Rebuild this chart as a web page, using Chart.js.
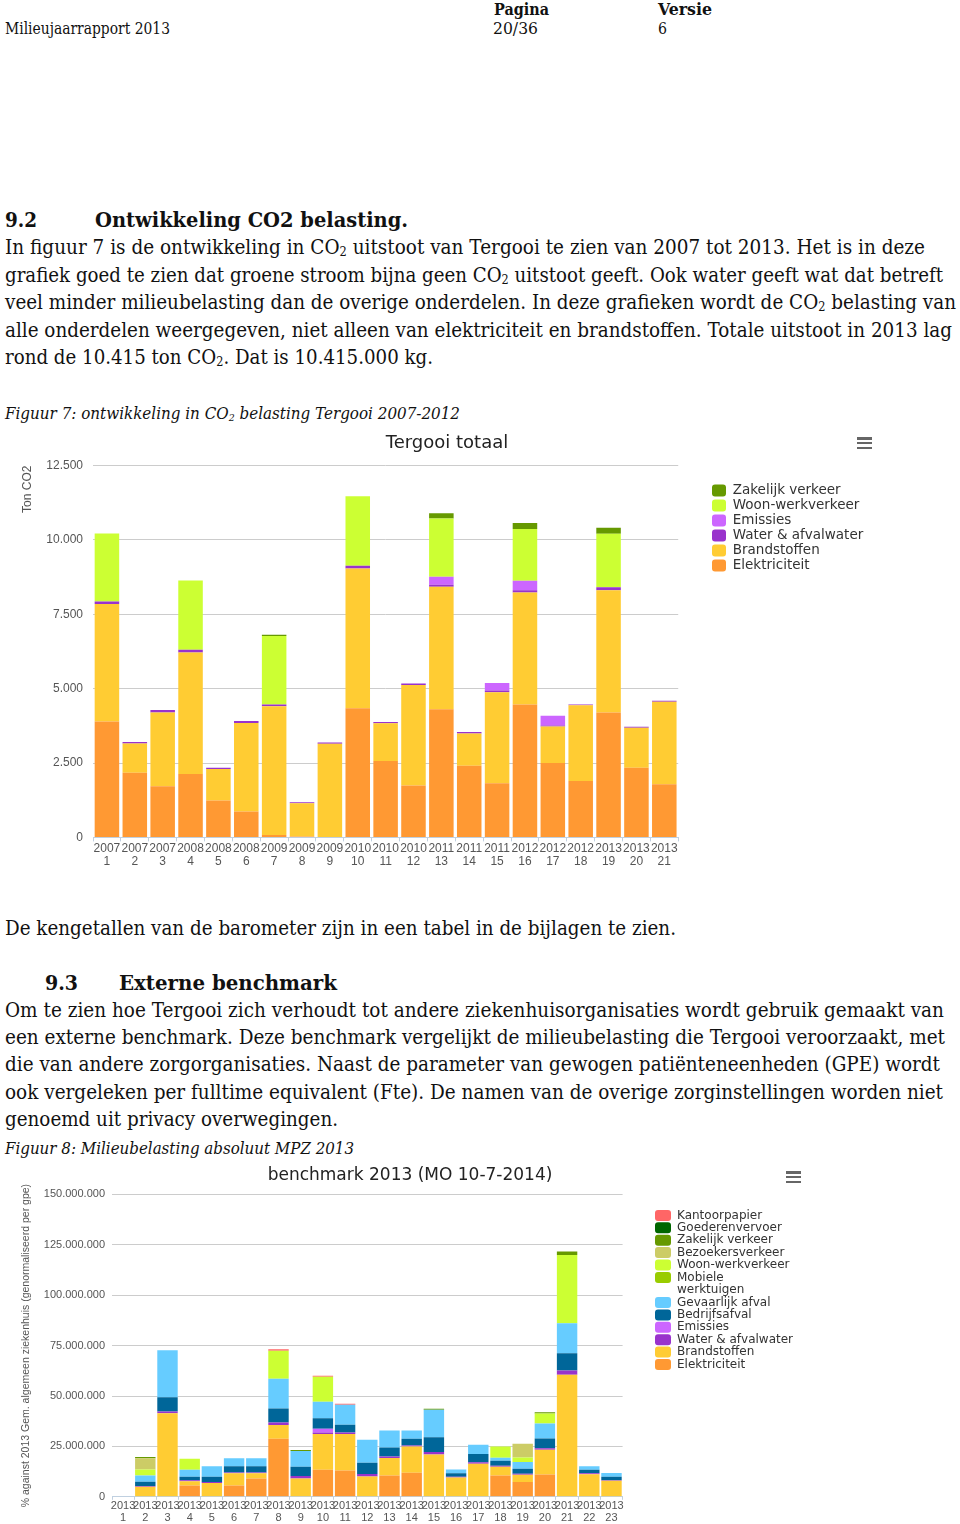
<!DOCTYPE html>
<html><head><meta charset="utf-8">
<script src="https://cdn.jsdelivr.net/npm/chart.js"></script>
<style>
html,body{margin:0;padding:0;background:#fff;}
body{width:960px;height:1524px;position:relative;overflow:hidden;font-family:"DejaVu Serif",serif;color:#111;}
.t{position:absolute;white-space:nowrap;line-height:24px;height:24px;transform-origin:0 50%;font-size:20px;}
.hd{font-size:16px;}
.bd{font-weight:bold;}
.it{font-style:italic;font-size:16px;}
sub{font-size:0.62em;vertical-align:-0.2em;line-height:0;}
canvas{position:absolute;}
.menu{position:absolute;width:15px;}
.menu div{height:2.6px;background:#666;margin-bottom:2.2px;}
</style></head><body>

<div class="t hd" data-x="5" data-y="29" data-w="165">Milieujaarrapport 2013</div>
<div class="t hd bd" data-x="494" data-y="10" data-w="55">Pagina</div>
<div class="t hd" data-x="493" data-y="29" data-w="45">20/36</div>
<div class="t hd bd" data-x="658" data-y="10" data-w="54">Versie</div>
<div class="t hd" data-x="658" data-y="29" data-w="9">6</div>

<div class="t bd" data-x="5" data-y="220" data-w="32">9.2</div>
<div class="t bd" data-x="95" data-y="220" data-w="313">Ontwikkeling CO2 belasting.</div>
<div class="t" data-x="5" data-y="247" data-w="920">In figuur 7 is de ontwikkeling in CO<sub>2</sub> uitstoot van Tergooi te zien van 2007 tot 2013. Het is in deze</div>
<div class="t" data-x="5" data-y="275" data-w="938">grafiek goed te zien dat groene stroom bijna geen CO<sub>2</sub> uitstoot geeft. Ook water geeft wat dat betreft</div>
<div class="t" data-x="5" data-y="302" data-w="951">veel minder milieubelasting dan de overige onderdelen. In deze grafieken wordt de CO<sub>2</sub> belasting van</div>
<div class="t" data-x="5" data-y="330" data-w="947">alle onderdelen weergegeven, niet alleen van elektriciteit en brandstoffen. Totale uitstoot in 2013 lag</div>
<div class="t" data-x="5" data-y="357" data-w="428">rond de 10.415 ton CO<sub>2</sub>. Dat is 10.415.000 kg.</div>
<div class="t it" data-x="5" data-y="414" data-w="455">Figuur 7: ontwikkeling in CO<sub>2</sub> belasting Tergooi 2007-2012</div>

<div class="t" data-x="5" data-y="928" data-w="671">De kengetallen van de barometer zijn in een tabel in de bijlagen te zien.</div>
<div class="t bd" data-x="45" data-y="983" data-w="33">9.3</div>
<div class="t bd" data-x="119" data-y="983" data-w="218">Externe benchmark</div>
<div class="t" data-x="5" data-y="1010" data-w="939">Om te zien hoe Tergooi zich verhoudt tot andere ziekenhuisorganisaties wordt gebruik gemaakt van</div>
<div class="t" data-x="5" data-y="1037" data-w="940">een externe benchmark. Deze benchmark vergelijkt de milieubelasting die Tergooi veroorzaakt, met</div>
<div class="t" data-x="5" data-y="1064" data-w="935">die van andere zorgorganisaties. Naast de parameter van gewogen patiënteneenheden (GPE) wordt</div>
<div class="t" data-x="5" data-y="1092" data-w="938">ook vergeleken per fulltime equivalent (Fte). De namen van de overige zorginstellingen worden niet</div>
<div class="t" data-x="5" data-y="1119" data-w="333">genoemd uit privacy overwegingen.</div>
<div class="t it" data-x="5" data-y="1149" data-w="349">Figuur 8: Milieubelasting absoluut MPZ 2013</div>

<canvas id="c1" width="894" height="450" style="left:0;top:425px;"></canvas>
<canvas id="c2" width="840" height="364" style="left:0;top:1160px;"></canvas>
<div class="menu" style="left:857px;top:437px;"><div></div><div></div><div></div></div>
<div class="menu" style="left:786px;top:1171px;"><div></div><div></div><div></div></div>

<script>
// ---------- Chart 1: Tergooi totaal (ton CO2) ----------
const years1 = ['2007','2007','2007','2008','2008','2008','2009','2009','2009','2010','2010','2010','2011','2011','2011','2012','2012','2012','2013','2013','2013'];
const nums1  = ['1','2','3','4','5','6','7','8','9','10','11','12','13','14','15','16','17','18','19','20','21'];
const elek1  = [3900,2170,1720,2130,1240,870,80,30,0,4340,2570,1745,4310,2410,1820,4470,2500,1900,4200,2340,1790];
const brand1 = [3950,990,2480,4090,1060,2980,4330,1120,3150,4700,1270,3380,4120,1080,3060,3760,1230,2540,4110,1350,2770];
const water1 = [80,50,80,90,40,60,60,30,40,90,40,50,60,50,60,80,30,30,100,30,35];
const emis1  = [0,0,0,0,0,0,0,0,0,0,0,0,270,0,250,315,326,0,0,0,0];
const woon1  = [2290,0,0,2330,0,0,2305,0,0,2340,0,0,1960,0,0,1745,0,0,1800,0,0];
const zak1   = [0,0,0,0,0,0,40,0,0,0,0,0,180,0,0,200,0,0,200,0,0];
const ticks1 = [0,2500,5000,7500,10000,12500];

// ---------- Chart 2: benchmark 2013 ----------
const years2 = ['2013','2013','2013','2013','2013','2013','2013','2013','2013','2013','2013','2013','2013','2013','2013','2013','2013','2013','2013','2013','2013','2013','2013'];
const nums2  = ['1','2','3','4','5','6','7','8','9','10','11','12','13','14','15','16','17','18','19','20','21','22','23'];
const elek2  = [0,0,0,5.6e6,0,5.6e6,9.1e6,28.8e6,0,13.4e6,13.1e6,0,10.6e6,11.9e6,0,0,0,10.6e6,7.4e6,11.1e6,0,0,0];
const brand2 = [0,5.0e6,41.5e6,2.1e6,6.8e6,6.1e6,2.6e6,6.8e6,9.1e6,17.7e6,18.0e6,10.1e6,8.6e6,13.1e6,21.0e6,9.6e6,16.4e6,4.3e6,3.5e6,12.2e6,60.5e6,11.2e6,7.9e6];
const water2 = [0,0.4e6,0.8e6,0.5e6,0.5e6,0.3e6,0.3e6,1.3e6,1.2e6,0.8e6,0.8e6,1.2e6,0.8e6,0.5e6,1.2e6,0.3e6,0.7e6,0.5e6,0.5e6,0.8e6,2.1e6,0.5e6,0.3e6];
const emis2  = [0,0,0,0,0,0,0,0,0,1.8e6,0,0,0,0,0,0,0,0,0,0,0,0,0];
const bedr2  = [0,2.1e6,7.1e6,1.7e6,2.6e6,3.1e6,3.1e6,6.9e6,4.6e6,5.3e6,3.8e6,5.6e6,4.5e6,3.3e6,7.4e6,1.8e6,4.1e6,2.5e6,2.5e6,4.8e6,8.6e6,1.7e6,1.8e6];
const gev2   = [0,3.1e6,23.3e6,3.5e6,5.3e6,4.0e6,4.0e6,14.7e6,7.8e6,8.1e6,9.9e6,11.4e6,8.4e6,4.1e6,13.6e6,1.8e6,4.6e6,1.5e6,3.3e6,7.4e6,14.9e6,1.8e6,1.8e6];
const mob2   = [0,0,0,0,0,0,0,0,0,0,0,0,0,0,0,0,0,0,0,0,0,0,0];
const woon2  = [0,3.0e6,0,5.5e6,0,0,0,13.9e6,0,12.4e6,0,0,0,0,0,0,0,5.6e6,2.3e6,5.0e6,33.9e6,0,0];
const bez2   = [0,5.5e6,0,0,0,0,0,0,0,0,0,0,0,0,0,0,0,0,6.8e6,0,0,0,0];
const zak2   = [0,0.6e6,0,0,0,0,0,0,0.5e6,0,0,0,0,0,0.5e6,0,0,0,0,0.7e6,1.7e6,0,0];
const goed2  = [0,0,0,0,0,0,0,0,0,0,0,0,0,0,0,0,0,0,0,0,0,0,0];
const kant2  = [0,0,0,0,0,0,0,0.8e6,0,0.5e6,0.5e6,0,0,0,0,0,0,0,0,0,0,0,0];

// ---------- text lines fitting ----------
document.querySelectorAll('.t').forEach(el => {
  const x = +el.dataset.x, y = +el.dataset.y, w = +el.dataset.w;
  el.style.left = x + 'px';
  el.style.top = (y - 12) + 'px';
  const nat = el.getBoundingClientRect().width;
  el.style.transform = 'scaleX(' + (w / nat) + ')';
});

const fmt = v => String(Math.round(v)).replace(/\B(?=(\d{3})+(?!\d))/g, '.');
Chart.defaults.font.family = '"Liberation Sans", Arial, sans-serif';
const axisCol = '#555';

// places the legend and title boxes where the Highcharts original has them
const placeBoxes = {
  id: 'placeBoxes',
  afterLayout(chart, args, opts) {
    const l = chart.legend;
    if (l && opts.legendX != null) {
      const dx = opts.legendX - (l.left + l.options.labels.padding);
      l.left += dx; l.right += dx;
    }
    const t = chart.titleBlock;
    if (t && opts.titleX != null) {
      const dx = opts.titleX - (t.left + t.right) / 2;
      t.left += dx; t.right += dx;
    }
  }
};

new Chart(document.getElementById('c1'), {
  type: 'bar',
  plugins: [placeBoxes],
  data: {
    labels: years1.map((y, i) => [y, nums1[i]]),
    datasets: [
      { label: 'Elektriciteit', data: elek1, backgroundColor: '#ff9933' },
      { label: 'Brandstoffen', data: brand1, backgroundColor: '#ffcc33' },
      { label: 'Water & afvalwater', data: water1, backgroundColor: '#9933cc' },
      { label: 'Emissies', data: emis1, backgroundColor: '#cc66ff' },
      { label: 'Woon-werkverkeer', data: woon1, backgroundColor: '#ccff33' },
      { label: 'Zakelijk verkeer', data: zak1, backgroundColor: '#669900' }
    ]
  },
  options: {
    responsive: false, animation: false,
    datasets: { bar: { barPercentage: 1, categoryPercentage: 0.88, borderWidth: 0 } },
    layout: { padding: { left: 0, right: 53, top: 0, bottom: 6 } },
    plugins: {
      placeBoxes: { legendX: 712, titleX: 447 },
      title: { display: true, text: 'Tergooi totaal', color: '#222', font: { family: 'DejaVu Sans', size: 18, weight: 'normal' }, padding: { top: 8, bottom: 11 } },
      legend: {
        position: 'right', align: 'start', reverse: true, fullSize: false,
        title: { display: true, text: '', font: { size: 1 }, padding: { top: 15.5, bottom: 0 } },
        labels: { boxWidth: 14, boxHeight: 12, padding: 1.5, useBorderRadius: true, borderRadius: 3, color: '#333', font: { family: 'DejaVu Sans', size: 13.5 } }
      },
      tooltip: { enabled: false }
    },
    scales: {
      x: {
        stacked: true,
        grid: { offset: true, drawOnChartArea: false, color: '#c0d0e0', tickLength: 4 },
        border: { color: '#c0d0e0' },
        ticks: { color: axisCol, font: { size: 12, lineHeight: 1.15 }, maxRotation: 0, autoSkip: false, padding: 0 }
      },
      y: {
        stacked: true, min: 0, max: 12500,
        afterFit: s => { s.width = 93; },
        afterBuildTicks: s => { s.ticks = ticks1.map(v => ({ value: v })); },
        ticks: { callback: v => fmt(v), color: axisCol, font: { size: 12 }, padding: 10 },
        grid: { color: '#cccccc', drawTicks: false },
        border: { display: false },
        title: { display: true, text: 'Ton CO2', align: 'end', color: axisCol, font: { size: 12 }, padding: { top: 20, bottom: 0 } }
      }
    }
  }
});

const ticks2 = [0, 25e6, 50e6, 75e6, 100e6, 125e6, 150e6];
new Chart(document.getElementById('c2'), {
  type: 'bar',
  plugins: [placeBoxes],
  data: {
    labels: years2.map((y, i) => [y, nums2[i]]),
    datasets: [
      { label: 'Elektriciteit', data: elek2, backgroundColor: '#ff9933' },
      { label: 'Brandstoffen', data: brand2, backgroundColor: '#ffcc33' },
      { label: 'Water & afvalwater', data: water2, backgroundColor: '#9933cc' },
      { label: 'Emissies', data: emis2, backgroundColor: '#cc66ff' },
      { label: 'Bedrijfsafval', data: bedr2, backgroundColor: '#006699' },
      { label: 'Gevaarlijk afval', data: gev2, backgroundColor: '#66ccff' },
      { label: 'Mobiele werktuigen', data: mob2, backgroundColor: '#99cc00' },
      { label: 'Woon-werkverkeer', data: woon2, backgroundColor: '#ccff33' },
      { label: 'Bezoekersverkeer', data: bez2, backgroundColor: '#cccc66' },
      { label: 'Zakelijk verkeer', data: zak2, backgroundColor: '#669900' },
      { label: 'Goederenvervoer', data: goed2, backgroundColor: '#006600' },
      { label: 'Kantoorpapier', data: kant2, backgroundColor: '#ff6666' }
    ]
  },
  options: {
    responsive: false, animation: false,
    datasets: { bar: { barPercentage: 1, categoryPercentage: 0.92, borderWidth: 0 } },
    layout: { padding: { left: 0, right: 69, top: 0, bottom: 0 } },
    plugins: {
      placeBoxes: { legendX: 655, titleX: 410 },
      title: { display: true, text: 'benchmark 2013 (MO 10-7-2014)', color: '#222', font: { family: 'DejaVu Sans', size: 17, weight: 'normal' }, padding: { top: 5, bottom: 9 } },
      legend: {
        position: 'right', align: 'start', reverse: true, fullSize: false,
        title: { display: true, text: '', font: { size: 1 }, padding: { top: 13.4, bottom: 0 } },
        labels: {
          boxWidth: 16, boxHeight: 11, padding: 0.4, useBorderRadius: true, borderRadius: 3, color: '#333',
          font: { family: 'DejaVu Sans', size: 12, lineHeight: 1.03 },
          generateLabels: chart => Chart.defaults.plugins.legend.labels.generateLabels(chart).map(l => {
            if (l.text === 'Mobiele werktuigen') l.text = ['Mobiele', 'werktuigen'];
            return l;
          })
        }
      },
      tooltip: { enabled: false }
    },
    scales: {
      x: {
        stacked: true,
        grid: { offset: true, drawOnChartArea: false, color: '#c0d0e0', tickLength: 3 },
        border: { color: '#c0d0e0' },
        ticks: { color: axisCol, font: { size: 11, lineHeight: 1.1 }, maxRotation: 0, autoSkip: false, padding: 0 }
      },
      y: {
        stacked: true, min: 0, max: 150e6,
        afterFit: s => { s.width = 112; },
        afterBuildTicks: s => { s.ticks = ticks2.map(v => ({ value: v })); },
        ticks: { callback: v => fmt(v), color: axisCol, font: { size: 11 }, padding: 7 },
        grid: { color: '#cccccc', drawTicks: false },
        border: { display: false },
        title: { display: true, text: '% against 2013 Gem. algemeen ziekenhuis (genormaliseerd per gpe)', color: axisCol, font: { size: 10.5 }, padding: { top: 20, bottom: 0 } }
      }
    }
  }
});
</script>
</body></html>
